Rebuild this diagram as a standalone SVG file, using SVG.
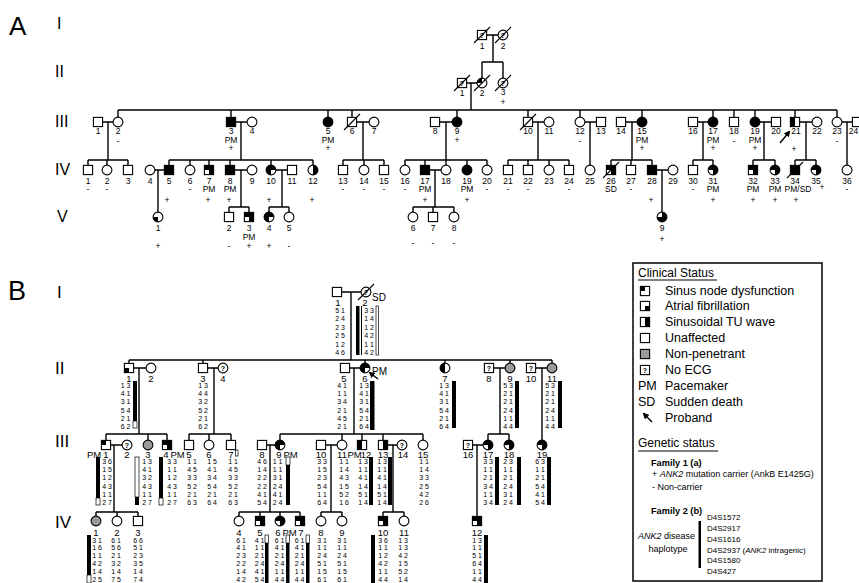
<svg xmlns="http://www.w3.org/2000/svg" width="859" height="583" viewBox="0 0 859 583">
<style>
text{font-family:"Liberation Sans",Arial,sans-serif;fill:#000}
.o{fill:#fff;stroke:#000;stroke-width:1.1}
.n{fill:none;stroke:#000;stroke-width:1.1}
.f{fill:#000;stroke:#000;stroke-width:1.1}
.k{fill:#000}
.g{fill:#9a9a9a;stroke:#000;stroke-width:1.1}
.cn{fill:none;stroke:#000;stroke-width:1.4}
.d{stroke:#000;stroke-width:1.1}
.pa{stroke:#000;stroke-width:1.4;marker-end:url(#ah)}
.na{font-size:8.5px;text-anchor:middle}
.nb{font-size:9.5px;text-anchor:middle}
.pm{font-size:9.5px}
.h{font-size:7px;text-anchor:middle}
.q{font-size:7px;text-anchor:middle;font-weight:bold}
.hw{fill:#fff;stroke:#000;stroke-width:0.7}
.rn{font-size:16px}
.rb{font-size:17px}
.lg{font-size:12.5px}
</style>
<defs>
<rect id="S" x="-4.6" y="-4.6" width="9.2" height="9.2"/>
<circle id="C" r="4.9"/>
<path id="sTL" d="M-4.6,-4.6H0V0H-4.6Z"/>
<path id="sBL" d="M-4.6,0H0V4.6H-4.6Z"/>
<path id="sBR" d="M0,0H4.6V4.6H0Z"/>
<path id="sL" d="M-4.6,-4.6H0V4.6H-4.6Z"/>
<path id="sR" d="M0,-4.6H4.6V4.6H0Z"/>
<path id="sXBL" d="M-4.6,-4.6H4.6V4.6H0V0H-4.6Z"/>
<path id="cTL" d="M0,0H-4.9A4.9,4.9 0 0 1 0,-4.9Z"/>
<path id="cBL" d="M0,0V4.9A4.9,4.9 0 0 1 -4.9,0Z"/>
<path id="cL" d="M0,-4.9A4.9,4.9 0 0 0 0,4.9Z"/>
<path id="cR" d="M0,-4.9A4.9,4.9 0 0 1 0,4.9Z"/>
<path id="cXBL" d="M0,0H-4.9A4.9,4.9 0 1 1 0,4.9Z"/>
<path id="cXBR" d="M0,0V4.9A4.9,4.9 0 1 1 4.9,0Z"/>
<path id="cXTL" d="M0,0V-4.9A4.9,4.9 0 1 1 -4.9,0Z"/>
<path id="dz" d="M-8,8L8,-8"/>
<marker id="ah" viewBox="0 0 10 10" refX="8" refY="5" markerWidth="4.5" markerHeight="4.5" orient="auto"><path d="M0,0L10,5L0,10Z"/></marker>
</defs>
<rect width="859" height="583" fill="#fff"/>

<g id="labels">
<text x="9" y="35" font-size="26">A</text>
<text x="8" y="300" font-size="27">B</text>
<text class="rn" x="57" y="29">I</text>
<text class="rn" x="55" y="77">II</text>
<text class="rn" x="55" y="127">III</text>
<text class="rn" x="55" y="175">IV</text>
<text class="rn" x="57" y="222">V</text>
<text class="rb" x="57" y="298">I</text>
<text class="rb" x="55" y="374">II</text>
<text class="rb" x="55" y="447">III</text>
<text class="rb" x="55" y="528">IV</text>
</g>

<g id="connectors" class="cn">
<path d="M486.6,35H498.1M493,35V62M482,62H503M482,62V78.1M503,62V78.1M466.6,83H477.1M471,83V110M118,110H837M118,110V117.1M231,110V117.4M328,110V117.1M352,110V117.4M457,110V117.1M528,110V117.4M580,110V117.1M642,110V117.1M713,110V117.1M734,110V117.4M755,110V117.1M795,110V117.4M837,110V117.1"/>
<path d="M102.6,122H113.1M108,122V160M88,160H128M88,160V165.4M107,160V165.1M128,160V165.4M235.6,122H247.1M241,122V160M169,160H313M169,160V165.4M190,160V165.1M209,160V165.4M230,160V165.4M271,160V165.1M313,160V165.1M356.6,122H369.1M363,122V160M343,160H384M343,160V165.4M364,160V165.1M384,160V165.4M439.6,122H452.1M446,122V160M405,160H487M405,160V165.1M425,160V165.4M446,160V165.1M467,160V165.1M487,160V165.1M532.6,122H544.1M538,122V160M508,160H569M508,160V165.4M528,160V165.4M549,160V165.1M569,160V165.4M584.9,122H596.4M590,122V165.1M625.6,122H637.1M632,122V160M611,160H652M611,160V165.4M631,160V165.4M652,160V165.4M697.6,122H708.1M703,122V160M693,160H713M693,160V165.4M713,160V165.1M759.9,122H771.4M764,122V160M753,160H775M753,160V165.4M775,160V165.1M799.6,122H812.1M806,122V160M795,160H816M795,160V165.4M816,160V165.1M841.9,122H852.4M847,122V165.1"/>
<path d="M154.9,170H164.4M158,170V212.1M234.6,170H247.1M241,170V207M229,207H249M229,207V212.4M249,207V212.4M275.9,170H287.4M282,170V207M269,207H289M269,207V212.1M289,207V212.1M429.6,170H441.1M435,170V207M413,207H454M413,207V212.1M433,207V212.4M454,207V212.1M656.6,170H668.1M662,170V212.1"/>
<path d="M341.6,292H361.1M351,292V360M129,360H552M129,360V363.4M203,360V363.4M365,360V363.1M445,360V363.1M510,360V363.1M552,360V363.1"/>
<path d="M133.6,368H146.1M139,368V434M106,434H167M106,434V440.4M148,434V440.1M167,434V440.4M207.6,368H218.1M214,368V434M189,434H231M189,434V440.4M209,434V440.1M231,434V440.4M349.6,368H360.1M354,368V434M280,434H423M280,434V440.1M342,434V440.1M362,434V440.4M383,434V440.4M423,434V440.1M493.6,368H505.1M500,368V434M488,434H509M488,434V440.1M509,434V440.1M535.6,368H547.1M542,368V440.1"/>
<path d="M110.6,445H122.1M114,445V512M96,512H138M96,512V516.1M117,512V516.1M138,512V516.4M266.6,445H275.1M270,445V512M239,512H300M239,512V516.1M260,512V516.4M280,512V516.1M300,512V516.4M325.6,445H337.1M331,445V512M321,512H342M321,512V516.1M342,512V516.1M387.6,445H397.1M393,445V512M383,512H404M383,512V516.4M404,512V516.1M472.6,445H483.1M477,445V516.4"/>
</g>

<!-- Panel A -->
<g id="A-I-1"><use href="#S" class="o" x="482" y="35"/><text class="q" x="482" y="37.5">?</text><use href="#dz" class="d" x="482" y="35"/><text class="na" x="482" y="48.5">1</text></g>
<g id="A-I-2"><use href="#C" class="o" x="503" y="35"/><text class="q" x="503" y="37.5">?</text><use href="#dz" class="d" x="503" y="35"/><text class="na" x="503" y="48.5">2</text></g>
<g id="A-II-1"><use href="#S" class="o" x="462" y="83"/><text class="q" x="462" y="85.5">?</text><use href="#dz" class="d" x="462" y="83"/><text class="na" x="462" y="95.5">1</text></g>
<g id="A-II-2"><use href="#C" class="o" x="482" y="83"/><use href="#cTL" class="k" x="482" y="83"/><use href="#dz" class="d" x="482" y="83"/><text class="na" x="482" y="95.5">2</text></g>
<g id="A-II-3"><use href="#C" class="o" x="503" y="83"/><text class="q" x="503" y="85.5">?</text><use href="#dz" class="d" x="503" y="83"/><text class="na" x="503" y="95">3</text><text class="na" x="503" y="105">+</text></g>

<g id="A-III-1"><use href="#S" class="o" x="98" y="122"/><text class="na" x="98" y="134">1</text></g>
<g id="A-III-2"><use href="#C" class="o" x="118" y="122"/><text class="na" x="118" y="134">2</text><text class="na" x="118" y="144">-</text></g>
<g id="A-III-3"><use href="#S" class="f" x="231" y="122"/><text class="na" x="231" y="134">3</text><text class="na" x="231" y="142.5">PM</text><text class="na" x="231" y="151">+</text></g>
<g id="A-III-4"><use href="#C" class="o" x="252" y="122"/><text class="na" x="252" y="134">4</text></g>
<g id="A-III-5"><use href="#C" class="f" x="328" y="122"/><text class="na" x="328" y="134">5</text><text class="na" x="328" y="142.5">PM</text><text class="na" x="328" y="151">+</text></g>
<g id="A-III-6"><use href="#S" class="o" x="352" y="122"/><use href="#dz" class="d" x="352" y="122"/><text class="na" x="352" y="134">6</text></g>
<g id="A-III-7"><use href="#C" class="o" x="374" y="122"/><text class="na" x="374" y="134">7</text></g>
<g id="A-III-8"><use href="#S" class="o" x="435" y="122"/><text class="na" x="435" y="134">8</text></g>
<g id="A-III-9"><use href="#C" class="f" x="457" y="122"/><text class="na" x="457" y="134">9</text><text class="na" x="457" y="143">+</text></g>
<g id="A-III-10"><use href="#S" class="o" x="528" y="122"/><use href="#dz" class="d" x="528" y="122"/><text class="na" x="528" y="134">10</text></g>
<g id="A-III-11"><use href="#C" class="o" x="549" y="122"/><text class="na" x="549" y="134">11</text></g>
<g id="A-III-12"><use href="#C" class="o" x="580" y="122"/><text class="na" x="580" y="134">12</text><text class="na" x="580" y="144">-</text></g>
<g id="A-III-13"><use href="#S" class="o" x="601" y="122"/><text class="na" x="601" y="134">13</text></g>
<g id="A-III-14"><use href="#S" class="o" x="621" y="122"/><text class="na" x="621" y="134">14</text></g>
<g id="A-III-15"><use href="#C" class="f" x="642" y="122"/><text class="na" x="642" y="134">15</text><text class="na" x="642" y="142.5">PM</text><text class="na" x="642" y="151">+</text></g>
<g id="A-III-16"><use href="#S" class="o" x="693" y="122"/><text class="na" x="693" y="134">16</text></g>
<g id="A-III-17"><use href="#C" class="f" x="713" y="122"/><text class="na" x="713" y="134">17</text><text class="na" x="713" y="142.5">PM</text><text class="na" x="713" y="151">+</text></g>
<g id="A-III-18"><use href="#S" class="o" x="734" y="122"/><text class="na" x="734" y="134">18</text><text class="na" x="734" y="144">-</text></g>
<g id="A-III-19"><use href="#C" class="f" x="755" y="122"/><text class="na" x="755" y="134">19</text><text class="na" x="755" y="142.5">PM</text><text class="na" x="755" y="151">+</text></g>
<g id="A-III-20"><use href="#S" class="o" x="776" y="122"/><text class="na" x="776" y="134">20</text></g>
<g id="A-III-21"><use href="#sL" class="k" x="795" y="122"/><use href="#S" class="n" x="795" y="122"/><text class="na" x="796" y="134">21</text><text class="na" x="794" y="152">+</text><line class="pa" x1="780" y1="143" x2="789.5" y2="131.5"/></g>
<g id="A-III-22"><use href="#C" class="o" x="817" y="122"/><text class="na" x="817" y="134">22</text></g>
<g id="A-III-23"><use href="#C" class="o" x="837" y="122"/><text class="na" x="837" y="134">23</text><text class="na" x="837" y="144">-</text></g>
<g id="A-III-24"><use href="#S" class="o" x="857" y="122"/><text class="na" x="853.5" y="134">24</text></g>

<g id="A-IV-1"><use href="#S" class="o" x="88" y="170"/><text class="na" x="88" y="183.5">1</text><text class="na" x="88" y="192">-</text></g>
<g id="A-IV-2"><use href="#C" class="o" x="107" y="170"/><text class="na" x="107" y="183.5">2</text><text class="na" x="107" y="192">-</text></g>
<g id="A-IV-3"><use href="#S" class="o" x="128" y="170"/><text class="na" x="128" y="183.5">3</text></g>
<g id="A-IV-4"><use href="#C" class="o" x="150" y="170"/><text class="na" x="150" y="183.5">4</text></g>
<g id="A-IV-5"><use href="#S" class="f" x="169" y="170"/><text class="na" x="169" y="183.5">5</text><text class="na" x="167" y="203">+</text></g>
<g id="A-IV-6"><use href="#C" class="o" x="190" y="170"/><text class="na" x="190" y="183.5">6</text><text class="na" x="190" y="192">-</text></g>
<g id="A-IV-7"><use href="#sXBL" class="k" x="209" y="170"/><use href="#S" class="n" x="209" y="170"/><text class="na" x="209" y="183.5">7</text><text class="na" x="209" y="192">PM</text><text class="na" x="208" y="203">+</text></g>
<g id="A-IV-8"><use href="#S" class="f" x="230" y="170"/><text class="na" x="230" y="183.5">8</text><text class="na" x="230" y="192">PM</text><text class="na" x="229" y="203">+</text></g>
<g id="A-IV-9"><use href="#C" class="o" x="252" y="170"/><text class="na" x="252" y="183.5">9</text></g>
<g id="A-IV-10"><use href="#cXBR" class="k" x="271" y="170"/><use href="#C" class="n" x="271" y="170"/><text class="na" x="271" y="183.5">10</text><text class="na" x="269" y="203">+</text></g>
<g id="A-IV-11"><use href="#S" class="o" x="292" y="170"/><text class="na" x="292" y="183.5">11</text></g>
<g id="A-IV-12"><use href="#cR" class="k" x="313" y="170"/><use href="#C" class="n" x="313" y="170"/><text class="na" x="313" y="183.5">12</text><text class="na" x="312" y="203">+</text></g>
<g id="A-IV-13"><use href="#S" class="o" x="343" y="170"/><text class="na" x="343" y="183.5">13</text><text class="na" x="343" y="192">-</text></g>
<g id="A-IV-14"><use href="#C" class="o" x="364" y="170"/><text class="na" x="364" y="183.5">14</text><text class="na" x="364" y="192">-</text></g>
<g id="A-IV-15"><use href="#S" class="o" x="384" y="170"/><text class="na" x="384" y="183.5">15</text><text class="na" x="384" y="192">-</text></g>
<g id="A-IV-16"><use href="#C" class="o" x="405" y="170"/><text class="na" x="405" y="183.5">16</text><text class="na" x="405" y="192">-</text></g>
<g id="A-IV-17"><use href="#S" class="f" x="425" y="170"/><text class="na" x="425" y="183.5">17</text><text class="na" x="425" y="192">PM</text><text class="na" x="425" y="203">+</text></g>
<g id="A-IV-18"><use href="#C" class="o" x="446" y="170"/><text class="na" x="446" y="183.5">18</text></g>
<g id="A-IV-19"><use href="#C" class="f" x="467" y="170"/><text class="na" x="467" y="183.5">19</text><text class="na" x="467" y="192">PM</text><text class="na" x="467" y="203">+</text></g>
<g id="A-IV-20"><use href="#C" class="o" x="487" y="170"/><text class="na" x="487" y="183.5">20</text><text class="na" x="487" y="192">-</text></g>
<g id="A-IV-21"><use href="#S" class="o" x="508" y="170"/><text class="na" x="508" y="183.5">21</text><text class="na" x="508" y="192">-</text></g>
<g id="A-IV-22"><use href="#S" class="o" x="528" y="170"/><text class="na" x="528" y="183.5">22</text><text class="na" x="528" y="192">-</text></g>
<g id="A-IV-23"><use href="#C" class="o" x="549" y="170"/><text class="na" x="549" y="183.5">23</text></g>
<g id="A-IV-24"><use href="#S" class="o" x="569" y="170"/><text class="na" x="569" y="183.5">24</text><text class="na" x="569" y="192">-</text></g>
<g id="A-IV-25"><use href="#C" class="o" x="590" y="170"/><text class="na" x="590" y="183.5">25</text></g>
<g id="A-IV-26"><use href="#sXBL" class="k" x="611" y="170"/><use href="#S" class="n" x="611" y="170"/><use href="#dz" class="d" x="611" y="170"/><text class="na" x="611" y="183.5">26</text><text class="na" x="611" y="192">SD</text></g>
<g id="A-IV-27"><use href="#S" class="o" x="631" y="170"/><text class="na" x="631" y="183.5">27</text><text class="na" x="631" y="192">-</text></g>
<g id="A-IV-28"><use href="#S" class="f" x="652" y="170"/><text class="na" x="652" y="183.5">28</text><text class="na" x="651" y="203">+</text></g>
<g id="A-IV-29"><use href="#C" class="o" x="673" y="170"/><text class="na" x="673" y="183.5">29</text></g>
<g id="A-IV-30"><use href="#S" class="o" x="693" y="170"/><text class="na" x="693" y="183.5">30</text><text class="na" x="693" y="192">-</text></g>
<g id="A-IV-31"><use href="#cXBL" class="k" x="713" y="170"/><use href="#C" class="n" x="713" y="170"/><text class="na" x="713" y="183.5">31</text><text class="na" x="713" y="192">PM</text><text class="na" x="713" y="203">+</text></g>
<g id="A-IV-32"><use href="#sXBL" class="k" x="753" y="170"/><use href="#S" class="n" x="753" y="170"/><text class="na" x="753" y="183.5">32</text><text class="na" x="753" y="192">PM</text><text class="na" x="753" y="203">+</text></g>
<g id="A-IV-33"><use href="#cXBL" class="k" x="775" y="170"/><use href="#C" class="n" x="775" y="170"/><text class="na" x="775" y="183.5">33</text><text class="na" x="775" y="192">PM</text><text class="na" x="775" y="203">+</text></g>
<g id="A-IV-34"><use href="#S" class="f" x="795" y="170"/><use href="#dz" class="d" x="795" y="170"/><text class="na" x="795" y="183.5">34</text><text class="na" x="798" y="192">PM/SD</text><text class="na" x="796" y="203">+</text></g>
<g id="A-IV-35"><use href="#cXBL" class="k" x="816" y="170"/><use href="#C" class="n" x="816" y="170"/><text class="na" x="816" y="183.5">35</text><text class="na" x="822" y="190">+</text></g>
<g id="A-IV-36"><use href="#C" class="o" x="847" y="170"/><text class="na" x="847" y="183.5">36</text><text class="na" x="847" y="192">-</text></g>

<g id="A-V-1"><use href="#cBL" class="k" x="158" y="217"/><use href="#C" class="n" x="158" y="217"/><text class="na" x="158" y="231">1</text><text class="na" x="158" y="249">+</text></g>
<g id="A-V-2"><use href="#S" class="o" x="229" y="217"/><text class="na" x="229" y="231">2</text><text class="na" x="229" y="248.5">-</text></g>
<g id="A-V-3"><use href="#sXBL" class="k" x="249" y="217"/><use href="#S" class="n" x="249" y="217"/><text class="na" x="249" y="231">3</text><text class="na" x="249" y="240">PM</text><text class="na" x="249" y="249">+</text></g>
<g id="A-V-4"><use href="#cXBR" class="k" x="269" y="217"/><use href="#C" class="n" x="269" y="217"/><text class="na" x="269" y="231">4</text><text class="na" x="269" y="249">+</text></g>
<g id="A-V-5"><use href="#C" class="o" x="289" y="217"/><text class="na" x="289" y="231">5</text><text class="na" x="289" y="248.5">-</text></g>
<g id="A-V-6"><use href="#C" class="o" x="413" y="217"/><text class="na" x="413" y="231">6</text><text class="na" x="413" y="246">-</text></g>
<g id="A-V-7"><use href="#S" class="o" x="433" y="217"/><text class="na" x="433" y="231">7</text><text class="na" x="433" y="246">-</text></g>
<g id="A-V-8"><use href="#C" class="o" x="454" y="217"/><text class="na" x="454" y="231">8</text><text class="na" x="454" y="246">-</text></g>
<g id="A-V-9"><use href="#cXTL" class="k" x="662" y="217"/><use href="#C" class="n" x="662" y="217"/><text class="na" x="662" y="231">9</text><text class="na" x="662" y="242">+</text></g>

<!-- Panel B -->
<g id="B-I-1"><use href="#S" class="o" x="337" y="292"/><text class="nb" x="338" y="305.5">1</text>
<text class="h" y="313"><tspan x="340">5 1</tspan><tspan x="340" dy="8.4">2 4</tspan><tspan x="340" dy="8.4">2 3</tspan><tspan x="340" dy="8.4">2 5</tspan><tspan x="340" dy="8.4">1 2</tspan><tspan x="340" dy="8.4">4 6</tspan></text></g>
<g id="B-I-2"><use href="#C" class="o" x="366" y="292"/><text class="q" x="366" y="294.5">?</text><use href="#dz" class="d" x="366" y="292"/><text class="nb" x="365" y="305.5">2</text><text x="372" y="301" font-size="10">SD</text>
<rect class="k" x="356" y="306" width="3.5" height="49"/><rect class="k" x="361" y="306" width="1" height="49"/><rect class="hw" x="376" y="306" width="2.5" height="49"/>
<text class="h" y="313"><tspan x="369">3 3</tspan><tspan x="369" dy="8.4">1 4</tspan><tspan x="369" dy="8.4">1 2</tspan><tspan x="369" dy="8.4">4 2</tspan><tspan x="369" dy="8.4">1 1</tspan><tspan x="369" dy="8.4">4 2</tspan></text></g>

<g id="B-II-1"><use href="#sBL" class="k" x="129" y="368"/><use href="#S" class="n" x="129" y="368"/><text class="nb" x="129" y="381.5">1</text>
<rect class="k" x="133" y="381" width="4" height="40"/><rect class="hw" x="133" y="421" width="4" height="7"/>
<text class="h" y="388"><tspan x="125.5">1 3</tspan><tspan x="125.5" dy="8.2">4 1</tspan><tspan x="125.5" dy="8.2">3 1</tspan><tspan x="125.5" dy="8.2">5 4</tspan><tspan x="125.5" dy="8.2">2 1</tspan><tspan x="125.5" dy="8.2">6 2</tspan></text></g>
<g id="B-II-2"><use href="#C" class="o" x="151" y="368"/><text class="nb" x="151" y="381.5">2</text></g>
<g id="B-II-3"><use href="#S" class="o" x="203" y="368"/><text class="nb" x="203" y="381.5">3</text>
<text class="h" y="388"><tspan x="203">1 3</tspan><tspan x="203" dy="8.2">4 4</tspan><tspan x="203" dy="8.2">3 2</tspan><tspan x="203" dy="8.2">5 2</tspan><tspan x="203" dy="8.2">2 1</tspan><tspan x="203" dy="8.2">6 2</tspan></text></g>
<g id="B-II-4"><use href="#C" class="o" x="223" y="368"/><text class="q" x="223" y="370.5">?</text><text class="nb" x="223" y="381.5">4</text></g>
<g id="B-II-5"><use href="#S" class="o" x="345" y="368"/><text class="nb" x="344" y="381.5">5</text>
<text class="h" y="388"><tspan x="342">4 1</tspan><tspan x="342" dy="8.2">1 1</tspan><tspan x="342" dy="8.2">3 4</tspan><tspan x="342" dy="8.2">2 1</tspan><tspan x="342" dy="8.2">4 5</tspan><tspan x="342" dy="8.2">2 1</tspan></text></g>
<g id="B-II-6"><use href="#cXBR" class="k" x="365" y="368"/><use href="#C" class="n" x="365" y="368"/><text class="nb" x="365" y="381.5">6</text><text x="372" y="375" font-size="10">PM</text><line class="pa" x1="378" y1="379" x2="369.5" y2="372.5"/>
<rect class="k" x="370" y="381" width="4.5" height="49"/>
<text class="h" y="388"><tspan x="364">1 3</tspan><tspan x="364" dy="8.2">4 1</tspan><tspan x="364" dy="8.2">3 1</tspan><tspan x="364" dy="8.2">5 4</tspan><tspan x="364" dy="8.2">2 1</tspan><tspan x="364" dy="8.2">6 4</tspan></text></g>
<g id="B-II-7"><use href="#cL" class="k" x="445" y="368"/><use href="#C" class="n" x="445" y="368"/><text class="nb" x="445" y="381.5">7</text>
<rect class="k" x="452" y="381" width="4" height="47"/>
<text class="h" y="388"><tspan x="444">1 3</tspan><tspan x="444" dy="8.2">4 1</tspan><tspan x="444" dy="8.2">3 1</tspan><tspan x="444" dy="8.2">5 4</tspan><tspan x="444" dy="8.2">2 1</tspan><tspan x="444" dy="8.2">6 4</tspan></text></g>
<g id="B-II-8"><use href="#S" class="o" x="489" y="368"/><text class="q" x="489" y="370.5">?</text><text class="nb" x="489" y="381.5">8</text></g>
<g id="B-II-9"><use href="#C" class="g" x="510" y="368"/><text class="nb" x="510" y="381.5">9</text>
<rect class="k" x="515" y="381" width="4" height="47"/>
<text class="h" y="388"><tspan x="508">5 3</tspan><tspan x="508" dy="8.2">2 1</tspan><tspan x="508" dy="8.2">2 1</tspan><tspan x="508" dy="8.2">2 4</tspan><tspan x="508" dy="8.2">1 1</tspan><tspan x="508" dy="8.2">4 4</tspan></text></g>
<g id="B-II-10"><use href="#S" class="o" x="531" y="368"/><text class="q" x="531" y="370.5">?</text><text class="nb" x="531" y="381.5">10</text></g>
<g id="B-II-11"><use href="#C" class="g" x="552" y="368"/><text class="nb" x="552" y="381.5">11</text>
<rect class="k" x="558" y="381" width="4" height="47"/>
<text class="h" y="388"><tspan x="550">5 3</tspan><tspan x="550" dy="8.2">2 1</tspan><tspan x="550" dy="8.2">2 1</tspan><tspan x="550" dy="8.2">2 4</tspan><tspan x="550" dy="8.2">1 1</tspan><tspan x="550" dy="8.2">4 4</tspan></text></g>

<g id="B-III-1"><use href="#sTL" class="k" x="106" y="445"/><use href="#S" class="n" x="106" y="445"/><text class="pm" x="87" y="457.5">PM</text><text class="nb" x="106" y="457.5">1</text>
<rect class="k" x="96" y="457" width="4" height="41"/><rect class="hw" x="96" y="498" width="4" height="7"/>
<text class="h" y="464"><tspan x="107">3 6</tspan><tspan x="107" dy="8.2">1 5</tspan><tspan x="107" dy="8.2">1 2</tspan><tspan x="107" dy="8.2">4 3</tspan><tspan x="107" dy="8.2">1 1</tspan><tspan x="107" dy="8.2">2 7</tspan></text></g>
<g id="B-III-2"><use href="#C" class="o" x="127" y="445"/><text class="q" x="127" y="447.5">?</text><text class="nb" x="127" y="457.5">2</text></g>
<g id="B-III-3"><use href="#C" class="g" x="148" y="445"/><text class="nb" x="148" y="457.5">3</text>
<rect class="hw" x="135" y="457" width="4" height="40"/><rect class="k" x="135" y="497" width="4" height="8"/>
<text class="h" y="464"><tspan x="147">1 3</tspan><tspan x="147" dy="8.2">4 1</tspan><tspan x="147" dy="8.2">3 2</tspan><tspan x="147" dy="8.2">4 3</tspan><tspan x="147" dy="8.2">1 1</tspan><tspan x="147" dy="8.2">2 7</tspan></text></g>
<g id="B-III-4"><use href="#sXBL" class="k" x="167" y="445"/><use href="#S" class="n" x="167" y="445"/><text class="nb" x="166" y="457.5">4</text><text class="pm" x="170.5" y="457.5">PM</text>
<rect class="k" x="159" y="457" width="4" height="41"/><rect class="hw" x="159" y="498" width="4" height="7"/>
<text class="h" y="464"><tspan x="172">3 3</tspan><tspan x="172" dy="8.2">1 1</tspan><tspan x="172" dy="8.2">1 2</tspan><tspan x="172" dy="8.2">4 3</tspan><tspan x="172" dy="8.2">1 1</tspan><tspan x="172" dy="8.2">2 7</tspan></text></g>
<g id="B-III-5"><use href="#S" class="o" x="189" y="445"/><text class="nb" x="189" y="457.5">5</text>
<text class="h" y="464"><tspan x="192">1 1</tspan><tspan x="192" dy="8.2">4 5</tspan><tspan x="192" dy="8.2">3 3</tspan><tspan x="192" dy="8.2">5 2</tspan><tspan x="192" dy="8.2">2 1</tspan><tspan x="192" dy="8.2">6 3</tspan></text></g>
<g id="B-III-6"><use href="#C" class="o" x="209" y="445"/><text class="nb" x="209" y="457.5">6</text>
<text class="h" y="464"><tspan x="212">1 5</tspan><tspan x="212" dy="8.2">4 1</tspan><tspan x="212" dy="8.2">3 4</tspan><tspan x="212" dy="8.2">5 4</tspan><tspan x="212" dy="8.2">2 1</tspan><tspan x="212" dy="8.2">6 4</tspan></text></g>
<g id="B-III-7"><use href="#S" class="o" x="231" y="445"/><text class="nb" x="231" y="457.5">7</text><rect class="hw" x="235.5" y="450" width="2.5" height="6"/>
<text class="h" y="464"><tspan x="233">1 1</tspan><tspan x="233" dy="8.2">4 5</tspan><tspan x="233" dy="8.2">3 3</tspan><tspan x="233" dy="8.2">5 2</tspan><tspan x="233" dy="8.2">2 1</tspan><tspan x="233" dy="8.2">6 3</tspan></text></g>
<g id="B-III-8"><use href="#S" class="o" x="262" y="445"/><text class="nb" x="262" y="457.5">8</text>
<text class="h" y="464"><tspan x="262">4 6</tspan><tspan x="262" dy="8.2">1 4</tspan><tspan x="262" dy="8.2">2 2</tspan><tspan x="262" dy="8.2">2 2</tspan><tspan x="262" dy="8.2">4 1</tspan><tspan x="262" dy="8.2">5 4</tspan></text></g>
<g id="B-III-9"><use href="#cXBR" class="k" x="280" y="445"/><use href="#C" class="n" x="280" y="445"/><text class="nb" x="279" y="457.5">9</text><text class="pm" x="283.5" y="457.5">PM</text>
<rect class="hw" x="286" y="457" width="4" height="8"/><rect class="k" x="286" y="465" width="4" height="40"/>
<text class="h" y="464"><tspan x="277.5">1 1</tspan><tspan x="277.5" dy="8.2">1 1</tspan><tspan x="277.5" dy="8.2">3 1</tspan><tspan x="277.5" dy="8.2">2 4</tspan><tspan x="277.5" dy="8.2">4 1</tspan><tspan x="277.5" dy="8.2">2 4</tspan></text></g>
<g id="B-III-10"><use href="#S" class="o" x="321" y="445"/><text class="nb" x="321" y="457.5">10</text>
<text class="h" y="464"><tspan x="322">3 3</tspan><tspan x="322" dy="8.2">1 5</tspan><tspan x="322" dy="8.2">2 3</tspan><tspan x="322" dy="8.2">5 4</tspan><tspan x="322" dy="8.2">1 1</tspan><tspan x="322" dy="8.2">6 4</tspan></text></g>
<g id="B-III-11"><use href="#C" class="o" x="342" y="445"/><text class="nb" x="342" y="457.5">11</text><text class="pm" x="347.5" y="457.5">PM</text>
<text class="h" y="464"><tspan x="344">1 1</tspan><tspan x="344" dy="8.2">1 4</tspan><tspan x="344" dy="8.2">4 3</tspan><tspan x="344" dy="8.2">1 5</tspan><tspan x="344" dy="8.2">5 2</tspan><tspan x="344" dy="8.2">1 6</tspan></text></g>
<g id="B-III-12"><use href="#sL" class="k" x="362" y="445"/><use href="#S" class="n" x="362" y="445"/><text class="nb" x="366" y="457.5">12</text>
<rect class="k" x="369" y="457" width="4" height="48"/>
<text class="h" y="464"><tspan x="363">1 3</tspan><tspan x="363" dy="8.2">1 1</tspan><tspan x="363" dy="8.2">4 1</tspan><tspan x="363" dy="8.2">1 4</tspan><tspan x="363" dy="8.2">5 1</tspan><tspan x="363" dy="8.2">1 4</tspan></text></g>
<g id="B-III-13"><use href="#sR" class="k" x="383" y="445"/><use href="#S" class="n" x="383" y="445"/><text class="nb" x="383" y="457.5">13</text>
<rect class="k" x="388" y="457" width="4" height="48"/>
<text class="h" y="464"><tspan x="382">1 3</tspan><tspan x="382" dy="8.2">1 1</tspan><tspan x="382" dy="8.2">4 1</tspan><tspan x="382" dy="8.2">1 4</tspan><tspan x="382" dy="8.2">5 1</tspan><tspan x="382" dy="8.2">1 4</tspan></text></g>
<g id="B-III-14"><use href="#C" class="o" x="402" y="445"/><text class="q" x="402" y="447.5">?</text><text class="nb" x="403" y="457.5">14</text></g>
<g id="B-III-15"><use href="#C" class="o" x="423" y="445"/><text class="nb" x="423" y="457.5">15</text>
<text class="h" y="464"><tspan x="424">1 1</tspan><tspan x="424" dy="8.2">1 4</tspan><tspan x="424" dy="8.2">3 3</tspan><tspan x="424" dy="8.2">2 5</tspan><tspan x="424" dy="8.2">4 2</tspan><tspan x="424" dy="8.2">2 6</tspan></text></g>
<g id="B-III-16"><use href="#S" class="o" x="468" y="445"/><text class="q" x="468" y="447.5">?</text><text class="nb" x="468" y="457.5">16</text></g>
<g id="B-III-17"><use href="#cXBL" class="k" x="488" y="445"/><use href="#C" class="n" x="488" y="445"/><text class="nb" x="488" y="457.5">17</text>
<rect class="k" x="495" y="457" width="4" height="48"/>
<text class="h" y="464"><tspan x="488">3 3</tspan><tspan x="488" dy="8.2">1 1</tspan><tspan x="488" dy="8.2">2 1</tspan><tspan x="488" dy="8.2">3 4</tspan><tspan x="488" dy="8.2">1 1</tspan><tspan x="488" dy="8.2">3 4</tspan></text></g>
<g id="B-III-18"><use href="#cXBL" class="k" x="509" y="445"/><use href="#C" class="n" x="509" y="445"/><text class="nb" x="509" y="457.5">18</text>
<rect class="k" x="517" y="457" width="4" height="48"/>
<text class="h" y="464"><tspan x="508">2 3</tspan><tspan x="508" dy="8.2">1 1</tspan><tspan x="508" dy="8.2">2 1</tspan><tspan x="508" dy="8.2">2 4</tspan><tspan x="508" dy="8.2">3 1</tspan><tspan x="508" dy="8.2">2 4</tspan></text></g>
<g id="B-III-19"><use href="#cXBL" class="k" x="542" y="445"/><use href="#C" class="n" x="542" y="445"/><text class="nb" x="542" y="457.5">19</text>
<rect class="k" x="547" y="457" width="4" height="48"/>
<text class="h" y="464"><tspan x="540">6 3</tspan><tspan x="540" dy="8.2">1 1</tspan><tspan x="540" dy="8.2">2 1</tspan><tspan x="540" dy="8.2">5 4</tspan><tspan x="540" dy="8.2">4 1</tspan><tspan x="540" dy="8.2">5 4</tspan></text></g>

<g id="B-IV-1"><use href="#C" class="g" x="96" y="521"/><text class="nb" x="96" y="535.5">1</text>
<rect class="k" x="87" y="535" width="4" height="40"/><rect class="hw" x="87" y="575" width="4" height="8"/>
<text class="h" y="542.5"><tspan x="97">3 1</tspan><tspan x="97" dy="7.9">1 6</tspan><tspan x="97" dy="7.9">1 1</tspan><tspan x="97" dy="7.9">4 2</tspan><tspan x="97" dy="7.9">1 4</tspan><tspan x="97" dy="7.9">2 5</tspan></text></g>
<g id="B-IV-2"><use href="#C" class="o" x="117" y="521"/><text class="nb" x="117" y="535.5">2</text>
<text class="h" y="542.5"><tspan x="116">6 1</tspan><tspan x="116" dy="7.9">5 6</tspan><tspan x="116" dy="7.9">2 1</tspan><tspan x="116" dy="7.9">3 2</tspan><tspan x="116" dy="7.9">1 4</tspan><tspan x="116" dy="7.9">7 5</tspan></text></g>
<g id="B-IV-3"><use href="#S" class="o" x="138" y="521"/><text class="nb" x="138" y="535.5">3</text>
<text class="h" y="542.5"><tspan x="138">6 6</tspan><tspan x="138" dy="7.9">5 1</tspan><tspan x="138" dy="7.9">2 3</tspan><tspan x="138" dy="7.9">3 5</tspan><tspan x="138" dy="7.9">1 4</tspan><tspan x="138" dy="7.9">7 4</tspan></text></g>
<g id="B-IV-4"><use href="#C" class="o" x="239" y="521"/><text class="nb" x="239" y="535.5">4</text>
<text class="h" y="542.5"><tspan x="241">6 1</tspan><tspan x="241" dy="7.9">4 1</tspan><tspan x="241" dy="7.9">2 3</tspan><tspan x="241" dy="7.9">2 2</tspan><tspan x="241" dy="7.9">1 4</tspan><tspan x="241" dy="7.9">4 2</tspan></text></g>
<g id="B-IV-5"><use href="#sXBL" class="k" x="260" y="521"/><use href="#S" class="n" x="260" y="521"/><text class="nb" x="260" y="535.5">5</text>
<rect class="hw" x="265" y="535" width="3.5" height="8"/><rect class="k" x="265" y="543" width="3.5" height="40"/>
<text class="h" y="542.5"><tspan x="259.5">4 1</tspan><tspan x="259.5" dy="7.9">1 1</tspan><tspan x="259.5" dy="7.9">2 1</tspan><tspan x="259.5" dy="7.9">2 4</tspan><tspan x="259.5" dy="7.9">4 1</tspan><tspan x="259.5" dy="7.9">5 4</tspan></text></g>
<g id="B-IV-6"><use href="#cXBL" class="k" x="280" y="521"/><use href="#C" class="n" x="280" y="521"/><text class="nb" x="278" y="535.5">6</text><text class="pm" x="282.5" y="535.5">PM</text>
<rect class="hw" x="286" y="535" width="3.5" height="8"/><rect class="k" x="286" y="543" width="3.5" height="40"/>
<text class="h" y="542.5"><tspan x="279.5">6 1</tspan><tspan x="279.5" dy="7.9">4 1</tspan><tspan x="279.5" dy="7.9">2 1</tspan><tspan x="279.5" dy="7.9">2 4</tspan><tspan x="279.5" dy="7.9">1 1</tspan><tspan x="279.5" dy="7.9">4 4</tspan></text></g>
<g id="B-IV-7"><use href="#sXBL" class="k" x="300" y="521"/><use href="#S" class="n" x="300" y="521"/><text class="nb" x="301" y="535.5">7</text>
<rect class="hw" x="306" y="535" width="3.5" height="8"/><rect class="k" x="306" y="543" width="3.5" height="40"/>
<text class="h" y="542.5"><tspan x="299.5">6 1</tspan><tspan x="299.5" dy="7.9">4 1</tspan><tspan x="299.5" dy="7.9">2 1</tspan><tspan x="299.5" dy="7.9">2 4</tspan><tspan x="299.5" dy="7.9">1 1</tspan><tspan x="299.5" dy="7.9">4 4</tspan></text></g>
<g id="B-IV-8"><use href="#C" class="o" x="321" y="521"/><text class="nb" x="321" y="535.5">8</text>
<text class="h" y="542.5"><tspan x="322">3 1</tspan><tspan x="322" dy="7.9">1 1</tspan><tspan x="322" dy="7.9">2 4</tspan><tspan x="322" dy="7.9">5 1</tspan><tspan x="322" dy="7.9">1 5</tspan><tspan x="322" dy="7.9">6 1</tspan></text></g>
<g id="B-IV-9"><use href="#C" class="o" x="342" y="521"/><text class="nb" x="342" y="535.5">9</text>
<text class="h" y="542.5"><tspan x="342">3 1</tspan><tspan x="342" dy="7.9">1 1</tspan><tspan x="342" dy="7.9">2 4</tspan><tspan x="342" dy="7.9">5 1</tspan><tspan x="342" dy="7.9">1 5</tspan><tspan x="342" dy="7.9">6 1</tspan></text></g>
<g id="B-IV-10"><use href="#sXBL" class="k" x="383" y="521"/><use href="#S" class="n" x="383" y="521"/><text class="nb" x="383" y="535.5">10</text>
<rect class="k" x="371" y="535" width="4" height="48"/>
<text class="h" y="542.5"><tspan x="383">3 6</tspan><tspan x="383" dy="7.9">1 1</tspan><tspan x="383" dy="7.9">1 2</tspan><tspan x="383" dy="7.9">4 2</tspan><tspan x="383" dy="7.9">1 1</tspan><tspan x="383" dy="7.9">4 4</tspan></text></g>
<g id="B-IV-11"><use href="#C" class="o" x="404" y="521"/><text class="nb" x="404" y="535.5">11</text>
<text class="h" y="542.5"><tspan x="403">1 3</tspan><tspan x="403" dy="7.9">1 3</tspan><tspan x="403" dy="7.9">4 2</tspan><tspan x="403" dy="7.9">1 5</tspan><tspan x="403" dy="7.9">5 2</tspan><tspan x="403" dy="7.9">1 4</tspan></text></g>
<g id="B-IV-12"><use href="#sXBL" class="k" x="477" y="521"/><use href="#S" class="n" x="477" y="521"/><text class="nb" x="477" y="535.5">12</text>
<rect class="k" x="484" y="535" width="4" height="48"/>
<text class="h" y="542.5"><tspan x="477">1 3</tspan><tspan x="477" dy="7.9">1 1</tspan><tspan x="477" dy="7.9">5 1</tspan><tspan x="477" dy="7.9">6 4</tspan><tspan x="477" dy="7.9">1 1</tspan><tspan x="477" dy="7.9">4 4</tspan></text></g>

<g id="legend">
<rect x="633" y="263" width="189" height="318" fill="#fff" stroke="#000" stroke-width="1.5"/>
<text x="638" y="277" font-size="12">Clinical Status</text>
<line x1="638" y1="280" x2="717" y2="280" stroke="#000" stroke-width="1"/>
<use href="#sTL" class="k" x="645" y="291"/><use href="#S" class="n" x="645" y="291"/>
<text class="lg" x="665" y="295">Sinus node dysfunction</text>
<use href="#sBR" class="k" x="645" y="306"/><use href="#S" class="n" x="645" y="306"/>
<text class="lg" x="665" y="310">Atrial fibrillation</text>
<use href="#sR" class="k" x="645" y="322"/><use href="#S" class="n" x="645" y="322"/>
<text class="lg" x="665" y="326">Sinusoidal TU wave</text>
<use href="#S" class="o" x="645" y="338"/>
<text class="lg" x="665" y="342">Unaffected</text>
<use href="#S" class="g" x="645" y="354"/>
<text class="lg" x="665" y="358">Non-penetrant</text>
<use href="#S" class="o" x="645" y="370"/><text class="q" x="645" y="372.5">?</text>
<text class="lg" x="665" y="374">No ECG</text>
<text class="lg" x="638" y="390">PM</text><text class="lg" x="665" y="390">Pacemaker</text>
<text class="lg" x="638" y="406">SD</text><text class="lg" x="665" y="406">Sudden death</text>
<line class="pa" x1="652" y1="422" x2="643.5" y2="413.5"/>
<text class="lg" x="665" y="422">Proband</text>
<text x="638" y="447" font-size="12">Genetic status</text>
<line x1="638" y1="451" x2="718" y2="451" stroke="#000" stroke-width="1"/>
<text x="651" y="466" font-size="9.2" font-weight="bold">Family 1 (a)</text>
<text x="652" y="477" font-size="9">+ <tspan font-style="italic">ANK2</tspan> mutation carrier (AnkB E1425G)</text>
<text x="652" y="490" font-size="9">-  Non-carrier</text>
<text x="651" y="514" font-size="9.2" font-weight="bold">Family 2 (b)</text>
<text x="695" y="539" font-size="9" text-anchor="end"><tspan font-style="italic">ANK2</tspan> disease</text>
<text x="668" y="552" font-size="9" text-anchor="middle">haplotype</text>
<rect class="k" x="698.5" y="521" width="2.5" height="47"/>
<text x="707" y="520" font-size="8">D4S1572</text>
<text x="707" y="531" font-size="8">D4S2917</text>
<text x="707" y="542" font-size="8">D4S1616</text>
<text x="707" y="552.5" font-size="8">D4S2937 (<tspan font-style="italic">ANK2</tspan> intragenic)</text>
<text x="707" y="563" font-size="8">D4S1580</text>
<text x="707" y="573.5" font-size="8">D4S427</text>
</g>
</svg>
